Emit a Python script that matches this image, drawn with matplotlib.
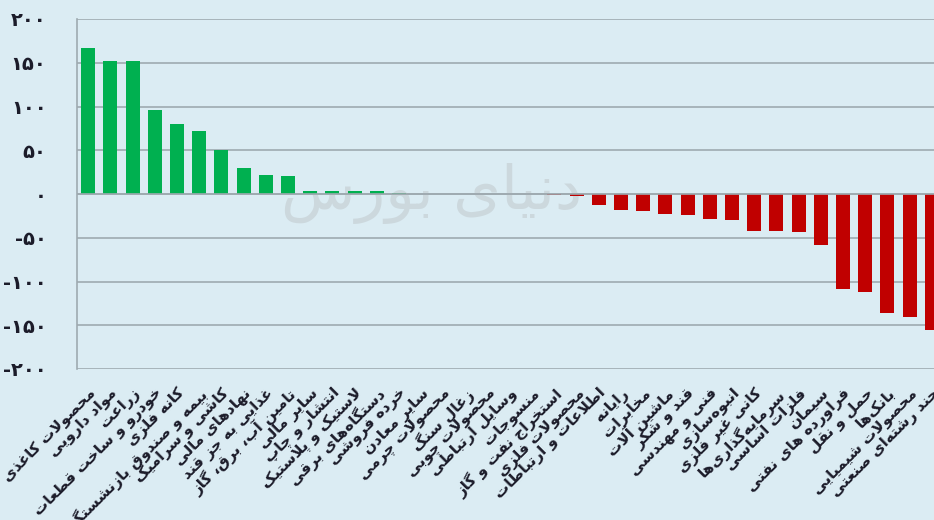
import numpy as np
import matplotlib
matplotlib.use("Agg")
import matplotlib.pyplot as plt

# ----- DATA -----
SECTORS = [
    "محصولات کاغذی", "مواد دارویی", "زراعت", "خودرو و ساخت قطعات", "کانه فلزی",
    "بیمه و صندوق بازنشستگی", "کاشی و سرامیک", "نهادهای مالی", "غذایی به جز قند",
    "تامین آب، برق، گاز", "سایر مالی", "انتشار و چاپ", "لاستیک و پلاستیک",
    "دستگاه‌های برقی", "خرده فروشی", "سایر معادن", "محصولات چرمی", "زغال سنگ",
    "محصولات چوبی", "وسایل ارتباطی", "منسوجات", "استخراج نفت و گاز",
    "محصولات فلزی", "اطلاعات و ارتباطات", "رایانه", "مخابرات", "ماشین آلات",
    "قند و شکر", "فنی و مهندسی", "انبوه‌سازی", "کانی غیر فلزی", "سرمایه‌گذاری‌ها",
    "فلزات اساسی", "سیمان", "فراورده های نفتی", "حمل و نقل", "بانک‌ها",
    "محصولات شیمیایی", "چند رشته‌ای صنعتی",
]
VALUES = [
    167, 152, 152, 95.5, 80, 71.5, 50, 29.5, 22, 21,
    4, 4, 3.5, 3, 1, 0, 0, 0, 0, 0, 0,
    -1.5, -2.5, -12, -18, -19, -23, -24, -28, -30, -42, -42, -43.5,
    -58, -108, -112, -136, -141, -155,
]
YTICKS = [-200, -150, -100, -50, 0, 50, 100, 150, 200]
YTICK_LABELS = ["-۲۰۰", "-۱۵۰", "-۱۰۰", "-۵۰", "۰", "۵۰", "۱۰۰", "۱۵۰", "۲۰۰"]
# -----------------

# minimal arabic/persian shaping (isolated, final, initial, medial)
FORMS = {
    "ا": (0xFE8D, 0xFE8E), "آ": (0xFE81, 0xFE82),
    "ب": (0xFE8F, 0xFE90, 0xFE91, 0xFE92), "پ": (0xFB56, 0xFB57, 0xFB58, 0xFB59),
    "ت": (0xFE95, 0xFE96, 0xFE97, 0xFE98), "ث": (0xFE99, 0xFE9A, 0xFE9B, 0xFE9C),
    "ج": (0xFE9D, 0xFE9E, 0xFE9F, 0xFEA0), "چ": (0xFB7A, 0xFB7B, 0xFB7C, 0xFB7D),
    "ح": (0xFEA1, 0xFEA2, 0xFEA3, 0xFEA4), "خ": (0xFEA5, 0xFEA6, 0xFEA7, 0xFEA8),
    "د": (0xFEA9, 0xFEAA), "ذ": (0xFEAB, 0xFEAC), "ر": (0xFEAD, 0xFEAE),
    "ز": (0xFEAF, 0xFEB0), "ژ": (0xFB8A, 0xFB8B),
    "س": (0xFEB1, 0xFEB2, 0xFEB3, 0xFEB4), "ش": (0xFEB5, 0xFEB6, 0xFEB7, 0xFEB8),
    "ص": (0xFEB9, 0xFEBA, 0xFEBB, 0xFEBC), "ض": (0xFEBD, 0xFEBE, 0xFEBF, 0xFEC0),
    "ط": (0xFEC1, 0xFEC2, 0xFEC3, 0xFEC4), "ظ": (0xFEC5, 0xFEC6, 0xFEC7, 0xFEC8),
    "ع": (0xFEC9, 0xFECA, 0xFECB, 0xFECC), "غ": (0xFECD, 0xFECE, 0xFECF, 0xFED0),
    "ف": (0xFED1, 0xFED2, 0xFED3, 0xFED4), "ق": (0xFED5, 0xFED6, 0xFED7, 0xFED8),
    "ک": (0xFB8E, 0xFB8F, 0xFB90, 0xFB91), "گ": (0xFB92, 0xFB93, 0xFB94, 0xFB95),
    "ل": (0xFEDD, 0xFEDE, 0xFEDF, 0xFEE0), "م": (0xFEE1, 0xFEE2, 0xFEE3, 0xFEE4),
    "ن": (0xFEE5, 0xFEE6, 0xFEE7, 0xFEE8), "و": (0xFEED, 0xFEEE),
    "ه": (0xFEE9, 0xFEEA, 0xFEEB, 0xFEEC), "ی": (0xFBFC, 0xFBFD, 0xFBFE, 0xFBFF),
}
LAM_ALEF = {"ا": (0xFEFB, 0xFEFC), "آ": (0xFEF5, 0xFEF6)}


def dual(c):
    return c in FORMS and len(FORMS[c]) == 4


def shape(text):
    out = []
    i = 0
    n = len(text)
    while i < n:
        c = text[i]
        if c not in FORMS:
            if c != "\u200c":
                out.append(c)
            i += 1
            continue
        prev_join = i > 0 and dual(text[i - 1])
        if c == "ل" and i + 1 < n and text[i + 1] in LAM_ALEF:
            iso, fin = LAM_ALEF[text[i + 1]]
            out.append(chr(fin if prev_join else iso))
            i += 2
            continue
        next_join = dual(c) and i + 1 < n and text[i + 1] in FORMS
        f = FORMS[c]
        if prev_join and next_join:
            out.append(chr(f[3]))
        elif prev_join:
            out.append(chr(f[1]))
        elif next_join:
            out.append(chr(f[2]))
        else:
            out.append(chr(f[0]))
        i += 1
    return "".join(reversed(out))


BG = "#dbecf3"
GREEN = "#00b050"
RED = "#c00000"
GRID = "#9eaab0"

plt.rcParams["font.family"] = ["DejaVu Sans"]

fig = plt.figure(figsize=(9.34, 5.2), dpi=100, facecolor=BG)
ax = fig.add_axes([77 / 934, 1 - 369 / 520, 866 / 934, 350 / 520])
ax.set_facecolor(BG)

x = np.arange(len(VALUES))
vals = np.array(VALUES)
colors = [GREEN if v >= 0 else RED for v in vals]
ax.bar(x, vals, width=0.63, color=colors, zorder=3)

ax.set_xlim(-0.5, len(VALUES) - 0.5)
ax.set_ylim(-200, 200)
ax.set_yticks(YTICKS)
ax.set_yticklabels(YTICK_LABELS, fontsize=14, fontweight="bold", color="#1c1c2a")
ax.yaxis.grid(True, color=GRID, linewidth=1.2, zorder=1)
ax.axhline(0, color=GRID, linewidth=1.2, zorder=4)
ax.tick_params(axis="y", length=0, pad=22)
ax.tick_params(axis="x", length=0, pad=12)

ax.set_xticks(x)
ax.set_xticklabels([shape(s) for s in SECTORS], rotation=45, ha="right",
                   va="top", rotation_mode="anchor", fontsize=11,
                   fontweight="bold", color="#1c1c2a")

for side in ["top", "right", "bottom"]:
    ax.spines[side].set_visible(False)
ax.spines["left"].set_color(GRID)
ax.spines["left"].set_linewidth(1.2)

# faint watermark
ax.text(0.41, 0.5, shape("دنیای بورس"), transform=ax.transAxes, fontsize=44,
        color="#b0b4b6", alpha=0.35, ha="center", va="center", zorder=2)

fig.savefig("out.png", dpi=100, facecolor=BG)
